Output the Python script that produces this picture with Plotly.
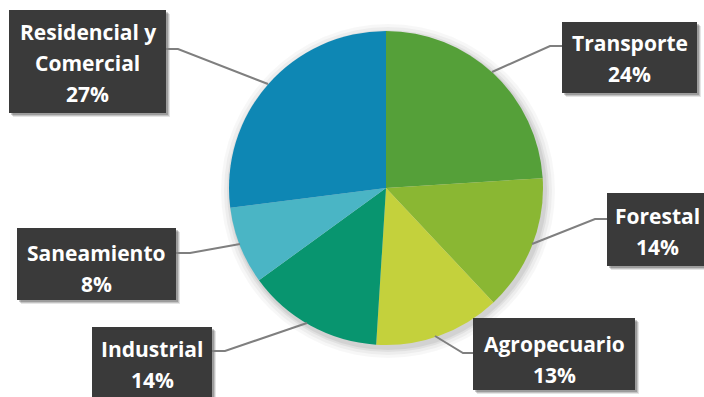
import plotly.graph_objects as go

# ---- data ----
sectors = ["Transporte", "Forestal", "Agropecuario", "Industrial", "Saneamiento", "Residencial y Comercial"]
label_lines = [["Transporte"], ["Forestal"], ["Agropecuario"], ["Industrial"], ["Saneamiento"], ["Residencial y", "Comercial"]]
shares = [24, 14, 13, 14, 8, 27]
colors = ["#55a039", "#8ab733", "#c4d13c", "#08956f", "#4ab5c5", "#0e87b4"]

W, H = 704, 397

def px(x):
    return x / W

def py(y):
    return 1 - y / H

# label box layout (pixels): box x0,y0,x1,y1 ; text center x ; first line center y ; leader polyline
layout_info = [
    dict(box=(562, 22, 697, 93), cx=629.5, ly=43, lead=[(562, 46), (550, 46), (492, 72)]),
    dict(box=(607, 193, 710, 266), cx=657.5, ly=216, lead=[(607, 219), (595, 219), (532, 244)]),
    dict(box=(473, 318, 635, 390), cx=554, ly=344, lead=[(473, 353), (463, 353), (435, 336)]),
    dict(box=(92, 327, 212, 400), cx=152, ly=349, lead=[(212, 351), (225, 351), (307, 323)]),
    dict(box=(17, 228, 176, 300), cx=96.5, ly=253, lead=[(176, 253), (190, 253), (240, 244)]),
    dict(box=(9, 10, 166, 113), cx=87.5, ly=32, lead=[(166, 49), (178, 49), (268, 84)]),
]
line_gap = 31

fig = go.Figure()

# soft shadow behind pie
cx0, cy0, r0 = 386, 188, 157
shapes = []
for i, (grow, op) in enumerate([(10, 0.03), (7, 0.04), (4, 0.05), (2, 0.06)]):
    shapes.append(dict(type="circle", xref="paper", yref="paper",
                       x0=px(cx0 - r0 - grow + 2), x1=px(cx0 + r0 + grow + 2),
                       y0=py(cy0 + r0 + grow + 3), y1=py(cy0 - r0 - grow + 3),
                       fillcolor=f"rgba(0,0,0,{op})", line=dict(width=0), layer="below"))

fig.add_trace(go.Pie(
    labels=sectors, values=shares, sort=False, direction="clockwise", rotation=0,
    marker=dict(colors=colors, line=dict(width=0)),
    textinfo="none", hoverinfo="label+percent", showlegend=False,
    domain=dict(x=[px(229), px(543)], y=[py(345), py(31)]),
))

annotations = []
for info, lines, val in zip(layout_info, label_lines, shares):
    x0, y0, x1, y1 = info["box"]
    # box shadow
    for off, op in [(4, 0.10), (3, 0.15), (2, 0.2)]:
        shapes.append(dict(type="rect", xref="paper", yref="paper",
                           x0=px(x0 + off), x1=px(x1 + off), y0=py(y1 + off), y1=py(y0 + off),
                           fillcolor=f"rgba(0,0,0,{op})", line=dict(width=0)))
    shapes.append(dict(type="rect", xref="paper", yref="paper",
                       x0=px(x0), x1=px(x1), y0=py(y1), y1=py(y0),
                       fillcolor="#3a3a3a", line=dict(width=0)))
    # leader line
    pts = info["lead"]
    path = "M " + " L ".join(f"{px(a)},{py(b)}" for a, b in pts)
    shapes.append(dict(type="path", xref="paper", yref="paper", path=path,
                       line=dict(color="#7f7f7f", width=2)))
    texts = lines + [f"{val}%"]
    for k, t in enumerate(texts):
        annotations.append(dict(xref="paper", yref="paper", x=px(info["cx"]), y=py(info["ly"] + k * line_gap),
                                text=f"<b>{t}</b>", showarrow=False, xanchor="center", yanchor="middle",
                                font=dict(family="Open Sans", size=21, color="white")))

fig.update_layout(
    width=W, height=H, margin=dict(l=0, r=0, t=0, b=0),
    paper_bgcolor="white", plot_bgcolor="white",
    shapes=shapes, annotations=annotations,
)

fig.write_html("out.html")
